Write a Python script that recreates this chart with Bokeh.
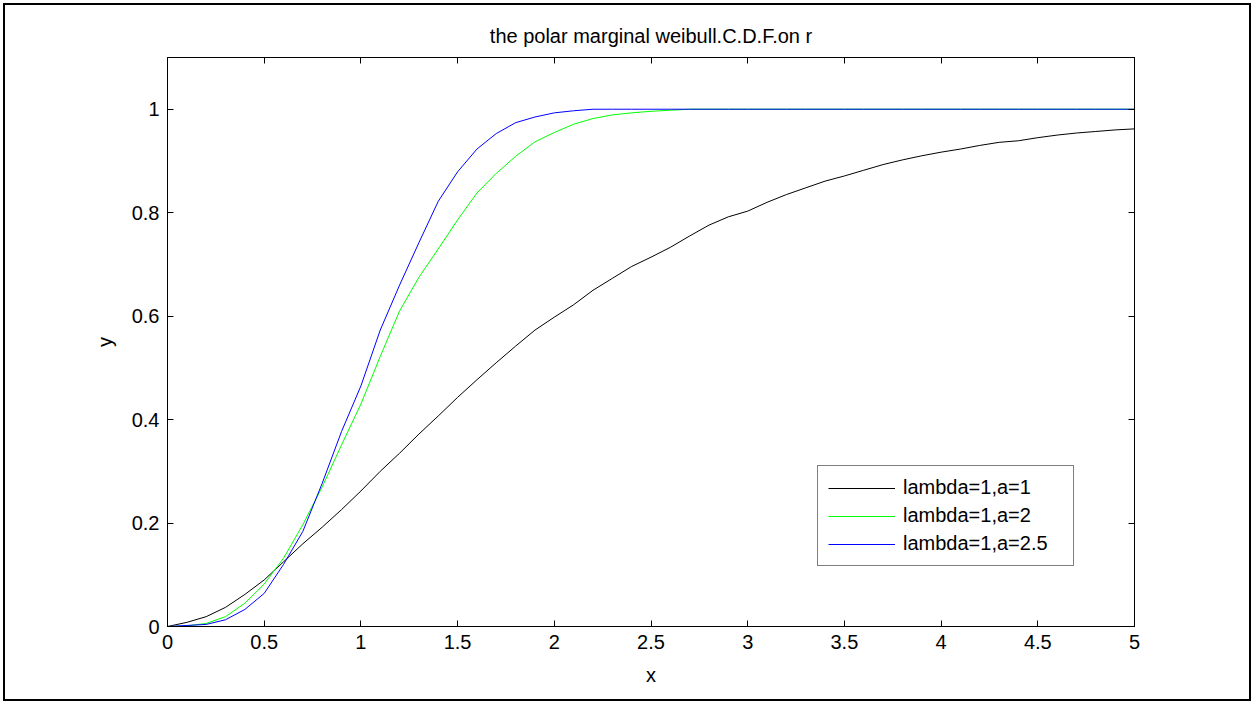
from bokeh.plotting import figure
from bokeh.models import (LinearAxis, FixedTicker, Legend, LegendItem, Range1d,
                          CustomLabelingPolicy, InlineStyleSheet)
from bokeh.embed import file_html
from bokeh.resources import INLINE

title_text = "the polar marginal weibull.C.D.F.on r"
x_label = "x"
y_label = "y"
x_ticks = [0, 0.5, 1, 1.5, 2, 2.5, 3, 3.5, 4, 4.5, 5]
y_ticks = [0, 0.2, 0.4, 0.6, 0.8, 1]
series_names = ["lambda=1,a=1", "lambda=1,a=2", "lambda=1,a=2.5"]

x_values = [0.0, 0.1, 0.2, 0.3, 0.4, 0.5, 0.6, 0.7, 0.8, 0.9,
            1.0, 1.1, 1.2, 1.3, 1.4, 1.5, 1.6, 1.7, 1.8, 1.9,
            2.0, 2.1, 2.2, 2.3, 2.4, 2.5, 2.6, 2.7, 2.8, 2.9,
            3.0, 3.1, 3.2, 3.3, 3.4, 3.5, 3.6, 3.7, 3.8, 3.9,
            4.0, 4.1, 4.2, 4.3, 4.4, 4.5, 4.6, 4.7, 4.8, 4.9, 5.0]

y_a1 = [0.0, 0.008, 0.019, 0.037, 0.062, 0.090, 0.125, 0.160, 0.192, 0.226,
        0.262, 0.300, 0.335, 0.372, 0.407, 0.443, 0.477, 0.510, 0.542, 0.573,
        0.598, 0.622, 0.650, 0.673, 0.696, 0.714, 0.733, 0.755, 0.776, 0.792,
        0.803, 0.820, 0.835, 0.848, 0.861, 0.871, 0.882, 0.893, 0.902, 0.910,
        0.917, 0.923, 0.930, 0.936, 0.939, 0.945, 0.950, 0.954, 0.957, 0.960, 0.962]

y_a2 = [0.0, 0.001, 0.006, 0.019, 0.045, 0.082, 0.132, 0.197, 0.270, 0.351,
        0.430, 0.522, 0.610, 0.675, 0.730, 0.786, 0.838, 0.876, 0.909, 0.937,
        0.955, 0.971, 0.982, 0.989, 0.993, 0.996, 0.998, 1.0, 1.0, 1.0,
        1.0, 1.0, 1.0, 1.0, 1.0, 1.0, 1.0, 1.0, 1.0, 1.0,
        1.0, 1.0, 1.0, 1.0, 1.0, 1.0, 1.0, 1.0, 1.0, 1.0, 1.0]

y_a25 = [0.0, 0.002, 0.004, 0.013, 0.033, 0.064, 0.120, 0.184, 0.277, 0.377,
         0.465, 0.573, 0.660, 0.742, 0.822, 0.879, 0.923, 0.953, 0.974, 0.985,
         0.993, 0.997, 1.0, 1.0, 1.0, 1.0, 1.0, 1.0, 1.0, 1.0,
         1.0, 1.0, 1.0, 1.0, 1.0, 1.0, 1.0, 1.0, 1.0, 1.0,
         1.0, 1.0, 1.0, 1.0, 1.0, 1.0, 1.0, 1.0, 1.0, 1.0, 1.0]

colors = ["#000000", "#00ff00", "#0000ff"]
FONT = "Liberation Sans"
FS = "20px"

p = figure(width=1254, height=704, output_backend="svg", toolbar_location=None,
           x_range=Range1d(0, 5), y_range=Range1d(0, 1.1),
           min_border_left=167, min_border_right=120, min_border_top=57, min_border_bottom=78,
           title=title_text)
p.title.align = "center"
p.title.text_font = FONT
p.title.text_font_size = FS
p.title.text_font_style = "normal"
p.title.text_color = "black"
p.title.standoff = 21
p.grid.visible = False
p.outline_line_color = "black"
p.background_fill_color = "white"
p.border_fill_color = "white"
p.stylesheets = [InlineStyleSheet(css=(
    ":host::after { content: ''; position: absolute; left: 3px; top: 3px; "
    "width: 1244px; height: 694px; border: 2px solid black; "
    "pointer-events: none; z-index: 100; }"))]

no_labels = CustomLabelingPolicy(code="return new Set()")

def style_axis(ax, show_labels):
    ax.major_tick_in = 6
    ax.major_tick_out = 0
    ax.minor_tick_in = 0
    ax.minor_tick_out = 0
    ax.axis_line_color = "black"
    ax.major_tick_line_color = "black"
    ax.major_label_text_font = FONT
    ax.major_label_text_color = "black"
    ax.axis_label_text_font = FONT
    ax.axis_label_text_font_size = FS
    ax.axis_label_text_font_style = "normal"
    ax.axis_label_text_color = "black"
    if show_labels:
        ax.major_label_text_font_size = FS
        ax.major_label_standoff = 8
    else:
        ax.major_label_text_font_size = "0px"
        ax.major_label_standoff = 0
        ax.major_label_policy = no_labels

xb = p.xaxis[0]
xb.ticker = FixedTicker(ticks=x_ticks)
xb.axis_label = x_label
style_axis(xb, True)
xb.axis_label_standoff = 12
yl = p.yaxis[0]
yl.ticker = FixedTicker(ticks=y_ticks)
yl.axis_label = y_label
style_axis(yl, True)
yl.axis_label_standoff = 13

xt = LinearAxis(ticker=FixedTicker(ticks=x_ticks))
style_axis(xt, False)
p.add_layout(xt, "above")
yr = LinearAxis(ticker=FixedTicker(ticks=y_ticks))
style_axis(yr, False)
p.add_layout(yr, "right")

renderers = []
for ys, c in zip([y_a1, y_a2, y_a25], colors):
    r = p.line(x_values, ys, line_color=c, line_width=1)
    renderers.append(r)

legend = Legend(items=[LegendItem(label=n, renderers=[r]) for n, r in zip(series_names, renderers)],
                location=(650, 60))
legend.label_text_font = FONT
legend.label_text_font_size = FS
legend.label_text_color = "black"
legend.glyph_width = 67
legend.glyph_height = 20
legend.label_height = 20
legend.label_width = 160
legend.label_standoff = 8
legend.spacing = 5
legend.padding = 10
legend.margin = 0
legend.border_line_color = "black"
legend.border_line_width = 1
legend.background_fill_alpha = 1
p.add_layout(legend, "center")

open("out.html", "w").write(file_html(p, INLINE))
